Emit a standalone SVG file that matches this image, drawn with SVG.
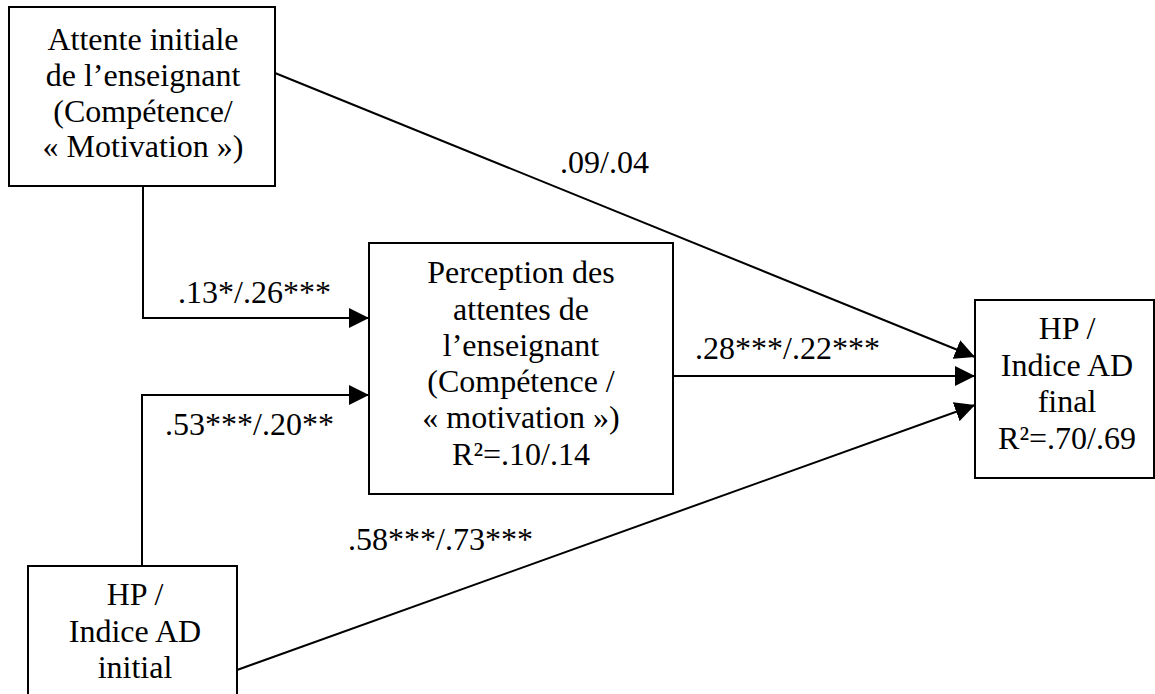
<svg xmlns="http://www.w3.org/2000/svg" width="1155" height="694" viewBox="0 0 1155 694">
  <style>
    .box { fill: #ffffff; stroke: #000000; stroke-width: 2; }
    .t { font-family: "Liberation Serif", "Times New Roman", serif; font-size: 32px; fill: #000000; }
    .c { text-anchor: middle; }
    .edge { fill: none; stroke: #000000; stroke-width: 2; }
  </style>
  <defs>
    <marker id="arrow" markerUnits="userSpaceOnUse" markerWidth="21" markerHeight="20" refX="20" refY="10" orient="auto">
      <path d="M0,0 L20,10 L0,20 z" fill="#000000"/>
    </marker>
  </defs>
  <rect x="0" y="0" width="1155" height="694" fill="#ffffff"/>

  <g id="connectors">
    <line class="edge" x1="275" y1="73" x2="975" y2="357" marker-end="url(#arrow)"/>
    <polyline class="edge" points="143,186 143,318 369,318" marker-end="url(#arrow)"/>
    <polyline class="edge" points="142,566 142,395 369,395" marker-end="url(#arrow)"/>
    <line class="edge" x1="673" y1="376" x2="975" y2="376" marker-end="url(#arrow)"/>
    <line class="edge" x1="237" y1="670" x2="975" y2="405" marker-end="url(#arrow)"/>
    <text class="t" x="560" y="173">.09/.04</text>
    <text class="t" x="178" y="303">.13*/.26***</text>
    <text class="t" x="165" y="435">.53***/.20**</text>
    <text class="t" x="695" y="359">.28***/.22***</text>
    <text class="t" x="348" y="550">.58***/.73***</text>
  </g>

  <g id="node-attente-initiale">
    <rect class="box" x="9" y="7" width="266" height="179"/>
    <text class="t c" x="143" y="50">Attente initiale</text>
    <text class="t c" x="143" y="86">de l’enseignant</text>
    <text class="t c" x="143" y="122">(Compétence/</text>
    <text class="t c" x="143" y="157">« Motivation »)</text>
  </g>

  <g id="node-perception">
    <rect class="box" x="369" y="243" width="304" height="251"/>
    <text class="t c" x="521" y="283">Perception des</text>
    <text class="t c" x="521" y="320">attentes de</text>
    <text class="t c" x="521" y="356">l’enseignant</text>
    <text class="t c" x="521" y="392">(Compétence /</text>
    <text class="t c" x="521" y="428">« motivation »)</text>
    <text class="t c" x="521" y="465">R²=.10/.14</text>
  </g>

  <g id="node-hp-final">
    <rect class="box" x="975" y="300" width="179" height="178"/>
    <text class="t c" x="1067" y="339">HP /</text>
    <text class="t c" x="1067" y="376">Indice AD</text>
    <text class="t c" x="1067" y="412">final</text>
    <text class="t c" x="1067" y="449">R²=.70/.69</text>
  </g>

  <g id="node-hp-initial">
    <rect class="box" x="28" y="566" width="209" height="150"/>
    <text class="t c" x="135" y="605">HP /</text>
    <text class="t c" x="135" y="642">Indice AD</text>
    <text class="t c" x="135" y="678">initial</text>
  </g>
</svg>
